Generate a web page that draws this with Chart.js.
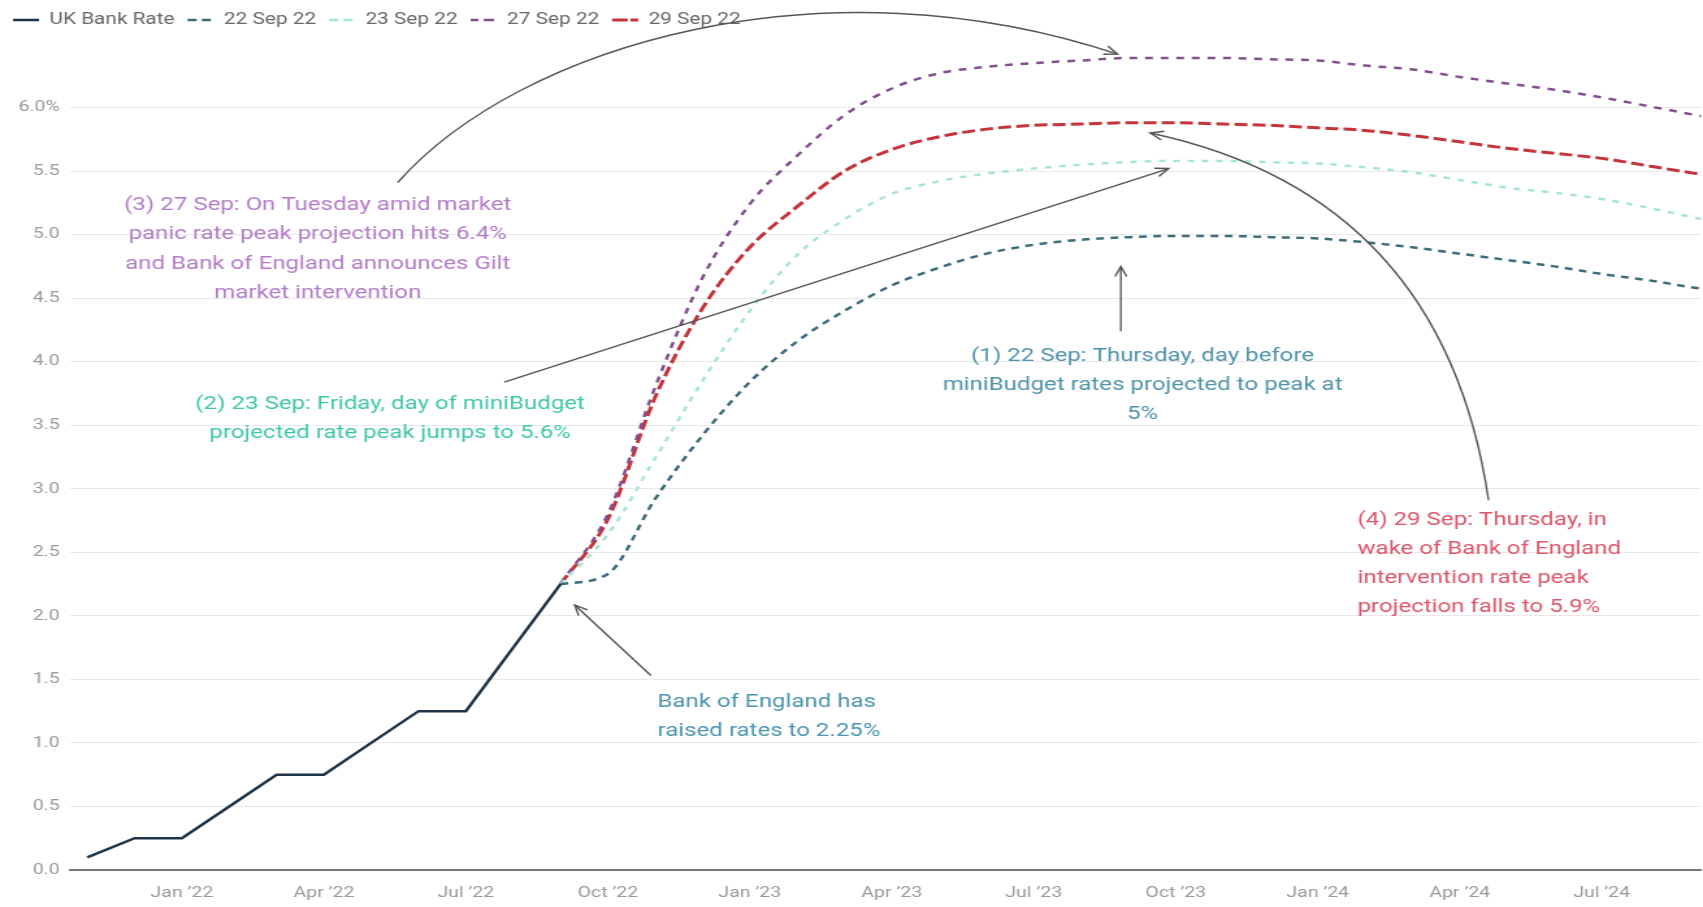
<!DOCTYPE html>
<html>
<head>
<meta charset="utf-8">
<script src="https://cdn.jsdelivr.net/npm/chart.js@4.4.0/dist/chart.umd.min.js"></script>
<style>
  html, body { margin: 0; padding: 0; background: #fff; overflow: hidden; }
  /* the reference is stretched sideways, so the chart is drawn narrower and scaled */
  #wrap { width: 1310px; height: 907px; transform: scaleX(1.3); transform-origin: 0 0; }
</style>
</head>
<body>
<div id="wrap"><canvas id="chart"></canvas></div>
<script>
// x axis: one slot per month
const MONTHS = ['Nov 21','Dec 21','Jan 22','Feb 22','Mar 22','Apr 22','May 22','Jun 22','Jul 22','Aug 22','Sep 22',
  'Oct 22','Nov 22','Dec 22','Jan 23','Feb 23','Mar 23','Apr 23','May 23','Jun 23','Jul 23','Aug 23','Sep 23',
  'Oct 23','Nov 23','Dec 23','Jan 24','Feb 24','Mar 24','Apr 24','May 24','Jun 24','Jul 24','Aug 24','Sep 24','Oct 24'];
const TICK_MONTHS = ['Jan 22','Apr 22','Jul 22','Oct 22','Jan 23','Apr 23','Jul 23','Oct 23','Jan 24','Apr 24','Jul 24'];
const TICK_LABELS = ['Jan ’22','Apr ’22','Jul ’22','Oct ’22','Jan ’23','Apr ’23','Jul ’23','Oct ’23','Jan ’24','Apr ’24','Jul ’24'];

// UK Bank Rate, Nov 21 -> Sep 22
const BANK_RATE_START = 'Nov 21';
const BANK_RATE = [0.1, 0.25, 0.25, 0.5, 0.75, 0.75, 1.0, 1.25, 1.25, 1.75, 2.25];

// market projections, Sep 22 -> Oct 24
const CURVE_START = 'Sep 22';
const SEP22 = [2.25, 2.33, 2.92, 3.42, 3.84, 4.16, 4.40, 4.60, 4.74, 4.85, 4.92, 4.96, 4.98,
  4.99, 4.99, 4.98, 4.97, 4.94, 4.90, 4.85, 4.80, 4.75, 4.69, 4.64, 4.58, 4.53];
const SEP23 = [2.25, 2.64, 3.24, 3.85, 4.40, 4.84, 5.12, 5.32, 5.42, 5.48, 5.52, 5.55, 5.57,
  5.58, 5.58, 5.57, 5.56, 5.53, 5.49, 5.43, 5.37, 5.33, 5.28, 5.21, 5.13, 5.06];
const SEP27 = [2.25, 2.80, 3.80, 4.66, 5.24, 5.62, 5.94, 6.15, 6.27, 6.32, 6.35, 6.37, 6.39,
  6.39, 6.39, 6.38, 6.37, 6.33, 6.30, 6.24, 6.19, 6.14, 6.08, 6.01, 5.94, 5.87];
const SEP29 = [2.25, 2.76, 3.72, 4.42, 4.90, 5.22, 5.50, 5.67, 5.77, 5.83, 5.86, 5.87, 5.88,
  5.88, 5.87, 5.86, 5.84, 5.82, 5.78, 5.73, 5.68, 5.64, 5.60, 5.54, 5.48, 5.42];

// annotations, placed in axis units (month slot, rate)
const NOTES = [
  { x: 4.87, y: 5.23, align: 'center', color: '#b27bc9',
    lines: ['(3) 27 Sep: On Tuesday amid market', 'panic rate peak projection hits 6.4%', 'and Bank of England announces Gilt', 'market intervention'] },
  { x: 6.40, y: 3.665, align: 'center', color: '#3fc8a6',
    lines: ['(2) 23 Sep: Friday, day of miniBudget', 'projected rate peak jumps to 5.6%'] },
  { x: 22.30, y: 4.045, align: 'center', color: '#4f92ab',
    lines: ['(1) 22 Sep: Thursday, day before', 'miniBudget rates projected to peak at', '5%'] },
  { x: 26.84, y: 2.755, align: 'left', color: '#dd5468',
    lines: ['(4) 29 Sep: Thursday, in', 'wake of Bank of England', 'intervention rate peak', 'projection falls to 5.9%'] },
  { x: 12.05, y: 1.32, align: 'left', color: '#4b95ae',
    lines: ['Bank of England has', 'raised rates to 2.25%'] }
];
const ARROWS = [
  [[6.56, 5.41], [9.16, 6.50], [15.58, 7.19], [21.77, 6.42]],
  [[8.81, 3.84], [22.85, 5.52]],
  [[21.84, 4.24], [21.84, 4.75]],
  [[29.61, 2.91], [28.65, 5.31], [22.46, 5.80]],
  [[11.91, 1.53], [10.30, 2.085]]
];

function series(start, values) {
  const i0 = MONTHS.indexOf(start);
  return values.map((v, i) => ({ x: i0 + i, y: v }));
}

function drawArrow(ctx, p) {
  ctx.beginPath();
  ctx.moveTo(p[0][0], p[0][1]);
  if (p.length === 2) ctx.lineTo(p[1][0], p[1][1]);
  else if (p.length === 3) ctx.quadraticCurveTo(p[1][0], p[1][1], p[2][0], p[2][1]);
  else ctx.bezierCurveTo(p[1][0], p[1][1], p[2][0], p[2][1], p[3][0], p[3][1]);
  ctx.stroke();
  const [tx, ty] = p[p.length - 1];
  const [fx, fy] = p[p.length - 2];
  const ang = Math.atan2(ty - fy, tx - fx);
  const L = 11;
  ctx.beginPath();
  ctx.moveTo(tx - L * Math.cos(ang - 0.42), ty - L * Math.sin(ang - 0.42));
  ctx.lineTo(tx, ty);
  ctx.lineTo(tx - L * Math.cos(ang + 0.42), ty - L * Math.sin(ang + 0.42));
  ctx.stroke();
}

const annotate = {
  id: 'annotate',
  afterDraw(chart) {
    const { ctx } = chart;
    const sx = chart.scales.x, sy = chart.scales.y;
    const px = p => [sx.getPixelForValue(p[0]), sy.getPixelForValue(p[1])];
    ctx.save();
    ctx.strokeStyle = '#555';
    ctx.lineWidth = 1.4;
    ARROWS.forEach(a => drawArrow(ctx, a.map(px)));
    ctx.font = '18.5px Roboto';
    ctx.textBaseline = 'middle';
    NOTES.forEach(n => {
      const [x0, y0] = px([n.x, n.y]);
      ctx.fillStyle = n.color;
      ctx.textAlign = n.align;
      n.lines.forEach((t, i) => ctx.fillText(t, x0, y0 + i * 29.3));
    });
    ctx.restore();
  }
};

// fixed legend height so the plot top lands where the reference has it
const legendHeight = {
  id: 'legendHeight',
  beforeInit(chart) {
    const fit = chart.legend.fit;
    chart.legend.fit = function () { fit.bind(chart.legend)(); this.height = 42; };
  }
};

const lineStyle = (color, width, dash) => ({
  borderColor: color, backgroundColor: color, borderWidth: width, borderDash: dash,
  pointRadius: 0, fill: false, cubicInterpolationMode: 'monotone'
});

new Chart(document.getElementById('chart'), {
  type: 'line',
  data: {
    datasets: [
      { label: 'UK Bank Rate', data: series(BANK_RATE_START, BANK_RATE), ...lineStyle('#1f3447', 2.5, []),
        cubicInterpolationMode: 'default', tension: 0 },
      { label: '22 Sep 22', data: series(CURVE_START, SEP22), ...lineStyle('#3d6c7a', 2.5, [6, 5]) },
      { label: '23 Sep 22', data: series(CURVE_START, SEP23), ...lineStyle('#a6e5d3', 2.5, [5, 6]) },
      { label: '27 Sep 22', data: series(CURVE_START, SEP27), ...lineStyle('#83508f', 2.5, [6, 6]) },
      { label: '29 Sep 22', data: series(CURVE_START, SEP29), ...lineStyle('#c4343b', 3, [10, 4]) }
    ]
  },
  options: {
    responsive: true,
    maintainAspectRatio: false,
    animation: false,
    layout: { padding: { top: 2, left: 0, right: 0, bottom: 5 } },
    plugins: {
      legend: {
        position: 'top', align: 'start',
        labels: { color: '#666', font: { family: 'Roboto', size: 16 }, boxWidth: 20, boxHeight: 0, padding: 10 }
      },
      tooltip: { enabled: false }
    },
    scales: {
      x: {
        type: 'linear', min: -0.36, max: 34.1,
        afterBuildTicks: s => { s.ticks = TICK_MONTHS.map(m => ({ value: MONTHS.indexOf(m) })); },
        afterFit: s => { s.height = 32; },
        ticks: {
          autoSkip: false, maxRotation: 0, padding: 14, color: '#999',
          font: { family: 'Roboto', size: 15 },
          callback: v => TICK_LABELS[TICK_MONTHS.indexOf(MONTHS[v])]
        },
        grid: { display: false, drawTicks: false },
        border: { color: '#777', width: 2 }
      },
      y: {
        min: 0, max: 6.5,
        afterFit: s => { s.width = 54; },
        afterBuildTicks: s => { s.ticks = s.ticks.filter(t => t.value <= 6); },
        ticks: {
          stepSize: 0.5, padding: 8, color: '#999',
          font: { family: 'Roboto', size: 15 },
          callback: v => v === 6 ? '6.0%' : v.toFixed(1)
        },
        grid: { color: '#e8e8e8', drawTicks: false },
        border: { display: false }
      }
    }
  },
  plugins: [legendHeight, annotate]
});
</script>
</body>
</html>
